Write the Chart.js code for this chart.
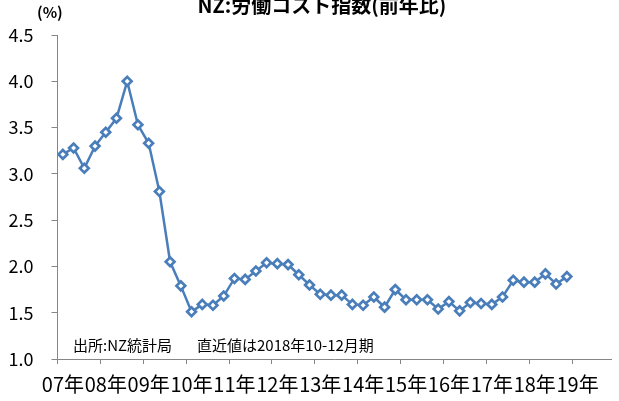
<!DOCTYPE html>
<html>
<head>
<meta charset="utf-8">
<script src="https://cdn.jsdelivr.net/npm/chart.js@4"></script>
<style>
  body { margin: 0; background: #fff; overflow: hidden; }
</style>
</head>
<body>
<canvas id="lciChart" width="619" height="401"></canvas>
<script>
// NZ labour cost index, y/y %, quarterly 2007Q1 - 2018Q4
const yearLabels = ['07年', '08年', '09年', '10年', '11年', '12年', '13年', '14年', '15年', '16年', '17年', '18年', '19年'];
const lciValues = [
  3.21, 3.28, 3.06, 3.30,
  3.45, 3.60, 4.00, 3.53,
  3.33, 2.81, 2.05, 1.79,
  1.51, 1.59, 1.58, 1.68,
  1.87, 1.86, 1.95, 2.04,
  2.03, 2.02, 1.91, 1.80,
  1.70, 1.69, 1.69, 1.59,
  1.58, 1.67, 1.56, 1.75,
  1.64, 1.64, 1.64, 1.54,
  1.62, 1.52, 1.61, 1.60,
  1.59, 1.67, 1.85, 1.83,
  1.83, 1.92, 1.81, 1.89
];
const yTicks = [1.0, 1.5, 2.0, 2.5, 3.0, 3.5, 4.0, 4.5];

const titleText = 'NZ:労働コスト指数(前年比)';
const unitText = '(%)';
const sourceText = '出所:NZ統計局';
const noteText = '直近値は2018年10-12月期';

const jpFont = '"Noto Sans CJK JP", "Noto Sans", sans-serif';
const axisGray = '#868686';
const lineBlue = '#4a7ebb';

// title, unit and note are plain canvas text
const textPlugin = {
  id: 'extraText',
  afterDraw(chart) {
    const ctx = chart.ctx;
    ctx.save();
    ctx.fillStyle = '#000';
    ctx.textBaseline = 'alphabetic';
    ctx.textAlign = 'center';
    ctx.font = 'bold 20px ' + jpFont;
    ctx.fillText(titleText, 322, 13);
    ctx.textAlign = 'left';
    ctx.font = 'bold 15px ' + jpFont;
    ctx.fillText(unitText, 37, 18);
    ctx.font = '15px ' + jpFont;
    ctx.textBaseline = 'middle';
    ctx.fillText(sourceText, 73, 345);
    ctx.fillText(noteText, 197, 345);
    ctx.restore();
  }
};

const lciChart = new Chart(document.getElementById('lciChart'), {
  type: 'line',
  data: {
    datasets: [{
      data: lciValues.map((v, i) => ({ x: i + 0.5, y: v })),
      borderColor: lineBlue,
      borderWidth: 2.5,
      pointStyle: 'rectRot',
      pointRadius: 4.4,
      pointBorderWidth: 2.7,
      pointBorderColor: lineBlue,
      pointBackgroundColor: '#fff',
      fill: false,
      tension: 0
    }]
  },
  options: {
    responsive: false,
    animation: false,
    devicePixelRatio: 1,
    layout: { padding: { top: 35, left: 0, right: 0, bottom: 0 } },
    plugins: { legend: { display: false }, tooltip: { enabled: false } },
    scales: {
      x: {
        type: 'linear',
        min: 0,
        max: 51.7,
        afterBuildTicks(scale) {
          scale.ticks = yearLabels.map((l, i) => ({ value: i * 4 }));
        },
        afterFit(scale) { scale.height = 42; },
        grid: { drawOnChartArea: false, tickLength: 5, color: axisGray },
        border: { color: axisGray },
        ticks: {
          autoSkip: false,
          maxRotation: 0,
          padding: 8,
          labelOffset: 5.4,
          color: '#000',
          font: { family: jpFont, size: 20 },
          callback: (v) => yearLabels[v / 4]
        }
      },
      y: {
        min: 1.0,
        max: 4.5,
        afterBuildTicks(scale) {
          scale.ticks = yTicks.map(v => ({ value: v }));
        },
        afterFit(scale) { scale.width = 57.5; },
        grid: { drawOnChartArea: false, tickLength: 6, color: axisGray },
        border: { color: axisGray },
        ticks: {
          padding: 18,
          color: '#000',
          font: { family: jpFont, size: 18 },
          callback: (v) => v.toFixed(1)
        }
      }
    }
  },
  plugins: [textPlugin]
});
</script>
</body>
</html>
